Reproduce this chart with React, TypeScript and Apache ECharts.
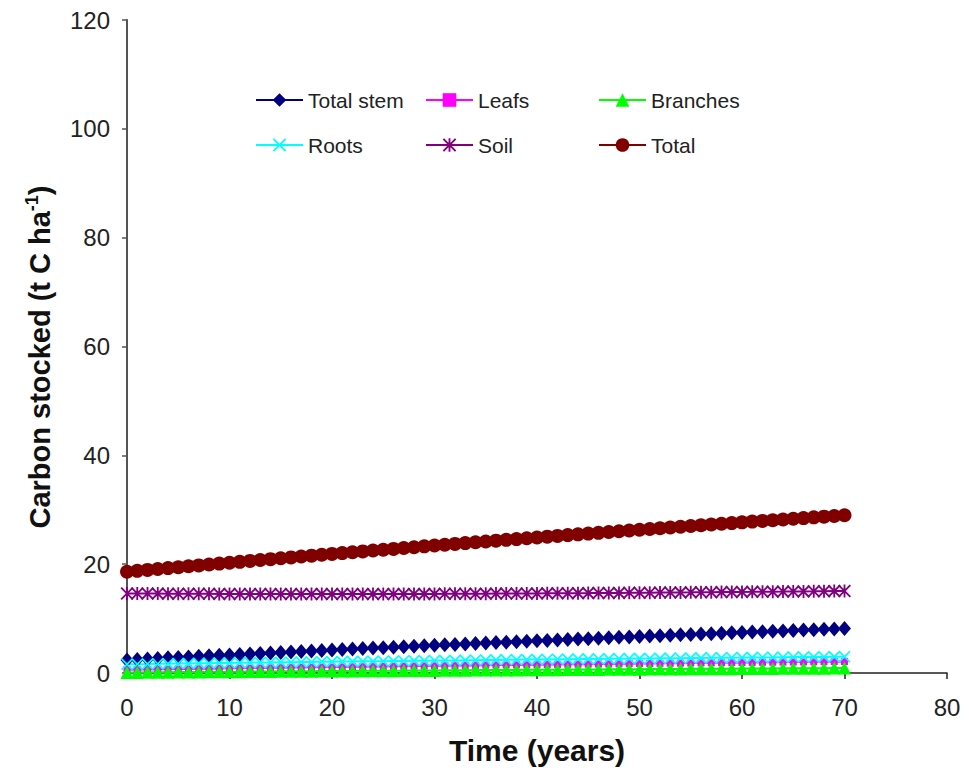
import React, { useEffect, useRef } from "react";
import * as echarts from "echarts";

const years = [
  0, 1, 2, 3, 4, 5, 6, 7, 8, 9, 10, 11, 12, 13, 14, 15, 16, 17, 18, 19, 20,
  21, 22, 23, 24, 25, 26, 27, 28, 29, 30, 31, 32, 33, 34, 35, 36, 37, 38, 39, 40,
  41, 42, 43, 44, 45, 46, 47, 48, 49, 50, 51, 52, 53, 54, 55, 56, 57, 58, 59, 60,
  61, 62, 63, 64, 65, 66, 67, 68, 69, 70,
];

const totalStem = [
  2.40, 2.49, 2.59, 2.68, 2.78, 2.87, 2.96, 3.06, 3.15, 3.24, 3.33,
  3.42, 3.51, 3.60, 3.69, 3.78, 3.87, 3.96, 4.05, 4.14, 4.23,
  4.32, 4.40, 4.49, 4.58, 4.66, 4.75, 4.83, 4.92, 5.00, 5.09,
  5.17, 5.26, 5.34, 5.42, 5.50, 5.59, 5.67, 5.75, 5.83, 5.91,
  5.99, 6.07, 6.15, 6.23, 6.31, 6.39, 6.47, 6.55, 6.62, 6.70,
  6.78, 6.85, 6.93, 7.01, 7.08, 7.16, 7.23, 7.30, 7.38, 7.45,
  7.53, 7.60, 7.67, 7.74, 7.81, 7.89, 7.96, 8.03, 8.10, 8.17,
];

const leafs = [
  0.60, 0.63, 0.65, 0.68, 0.70, 0.73, 0.75, 0.78, 0.80, 0.83, 0.85,
  0.88, 0.90, 0.93, 0.95, 0.97, 1.00, 1.02, 1.05, 1.07, 1.09,
  1.12, 1.14, 1.16, 1.18, 1.21, 1.23, 1.25, 1.27, 1.30, 1.32,
  1.34, 1.36, 1.38, 1.40, 1.43, 1.45, 1.47, 1.49, 1.51, 1.53,
  1.55, 1.57, 1.59, 1.61, 1.63, 1.65, 1.67, 1.69, 1.71, 1.73,
  1.75, 1.77, 1.79, 1.81, 1.83, 1.85, 1.87, 1.89, 1.90, 1.92,
  1.94, 1.96, 1.98, 2.00, 2.01, 2.03, 2.05, 2.07, 2.09, 2.10,
];

const branches = [
  0.10, 0.11, 0.13, 0.14, 0.15, 0.17, 0.18, 0.19, 0.21, 0.22, 0.23,
  0.25, 0.26, 0.27, 0.28, 0.30, 0.31, 0.32, 0.33, 0.35, 0.36,
  0.37, 0.38, 0.40, 0.41, 0.42, 0.43, 0.44, 0.46, 0.47, 0.48,
  0.49, 0.50, 0.52, 0.53, 0.54, 0.55, 0.56, 0.57, 0.59, 0.60,
  0.61, 0.62, 0.63, 0.64, 0.65, 0.66, 0.68, 0.69, 0.70, 0.71,
  0.72, 0.73, 0.74, 0.75, 0.76, 0.77, 0.78, 0.79, 0.80, 0.81,
  0.82, 0.83, 0.84, 0.85, 0.86, 0.87, 0.88, 0.89, 0.90, 0.91,
];

const roots = [
  1.60, 1.63, 1.65, 1.68, 1.70, 1.73, 1.75, 1.78, 1.80, 1.83, 1.85,
  1.87, 1.90, 1.92, 1.94, 1.97, 1.99, 2.01, 2.03, 2.06, 2.08,
  2.10, 2.12, 2.14, 2.16, 2.18, 2.20, 2.22, 2.24, 2.26, 2.28,
  2.30, 2.32, 2.34, 2.36, 2.38, 2.40, 2.42, 2.44, 2.46, 2.48,
  2.50, 2.52, 2.54, 2.56, 2.57, 2.59, 2.61, 2.63, 2.65, 2.66,
  2.68, 2.70, 2.72, 2.73, 2.75, 2.77, 2.78, 2.80, 2.82, 2.83,
  2.85, 2.87, 2.88, 2.90, 2.92, 2.93, 2.95, 2.96, 2.98, 3.00,
];

const soil = [
  14.62, 14.61, 14.60, 14.59, 14.58, 14.57, 14.56, 14.56, 14.55, 14.54, 14.54,
  14.53, 14.53, 14.52, 14.52, 14.52, 14.51, 14.51, 14.51, 14.51, 14.51,
  14.51, 14.51, 14.51, 14.52, 14.52, 14.52, 14.53, 14.53, 14.54, 14.54,
  14.55, 14.56, 14.56, 14.57, 14.58, 14.59, 14.60, 14.61, 14.62, 14.63,
  14.64, 14.65, 14.66, 14.67, 14.68, 14.70, 14.71, 14.72, 14.74, 14.75,
  14.76, 14.78, 14.79, 14.81, 14.82, 14.84, 14.85, 14.87, 14.88, 14.90,
  14.91, 14.93, 14.95, 14.96, 14.98, 15.00, 15.01, 15.03, 15.05, 15.07,
];

const total = [
  18.60, 18.77, 18.94, 19.11, 19.28, 19.44, 19.61, 19.77, 19.94, 20.10, 20.27,
  20.43, 20.60, 20.76, 20.92, 21.08, 21.24, 21.40, 21.56, 21.72, 21.88,
  22.03, 22.19, 22.35, 22.50, 22.66, 22.81, 22.96, 23.12, 23.27, 23.42,
  23.57, 23.72, 23.87, 24.02, 24.17, 24.32, 24.47, 24.61, 24.76, 24.90,
  25.05, 25.19, 25.34, 25.48, 25.62, 25.76, 25.91, 26.05, 26.19, 26.33,
  26.46, 26.60, 26.74, 26.88, 27.01, 27.15, 27.28, 27.42, 27.55, 27.68,
  27.82, 27.95, 28.08, 28.21, 28.34, 28.47, 28.60, 28.73, 28.85, 28.98,
];

const seriesNames = ["Total stem", "Leafs", "Branches", "Roots", "Soil", "Total"];

const FONT = "'Liberation Sans', Arial, Helvetica, sans-serif";

const X_SYMBOL =
  "path://M0,1 L1,0 L5,4 L9,0 L10,1 L6,5 L10,9 L9,10 L5,6 L1,10 L0,9 L4,5 Z";
const STAR_SYMBOL =
  "path://M0,1 L1,0 L5,4 L9,0 L10,1 L6,5 L10,9 L9,10 L5,6 L1,10 L0,9 L4,5 Z M4.3,0 L5.7,0 L5.7,10 L4.3,10 Z";

export default function App() {
  const ref = useRef<HTMLDivElement>(null);

  useEffect(() => {
    if (!ref.current) return;
    const chart = echarts.init(ref.current, null, { renderer: "svg" });

    const pair = (vals: number[]) => years.map((y, i) => [y, vals[i]]);

    const specs = [
      { name: seriesNames[0], data: totalStem, color: "#000080", symbol: "diamond", size: [13, 15] },
      { name: seriesNames[1], data: leafs, color: "#FF00FF", symbol: "rect", size: 7 },
      { name: seriesNames[2], data: branches, color: "#00FF00", symbol: "triangle", size: 13 },
      { name: seriesNames[3], data: roots, color: "#00FFFF", symbol: X_SYMBOL, size: 12 },
      { name: seriesNames[4], data: soil, color: "#800080", symbol: STAR_SYMBOL, size: 13 },
      { name: seriesNames[5], data: total, color: "#800000", symbol: "circle", size: 14 },
    ];

    const legendPos = [
      { left: 255, top: 89 },
      { left: 425, top: 89 },
      { left: 598, top: 89 },
      { left: 255, top: 134 },
      { left: 425, top: 134 },
      { left: 598, top: 134 },
    ];

    const option: any = {
      animation: false,
      backgroundColor: "#ffffff",
      grid: { left: 127, right: 22, top: 20, bottom: 98, containLabel: false },
      legend: specs.map((s, i) => ({
        data: [s.name],
        left: legendPos[i].left,
        top: legendPos[i].top,
        padding: 0,
        itemWidth: 47,
        itemHeight: 17,
        textStyle: { fontSize: 21, color: "#222", fontFamily: FONT, lineHeight: 22 },
      })),
      xAxis: {
        type: "value",
        min: 0,
        max: 80,
        interval: 10,
        axisLine: { show: true, onZero: false, lineStyle: { color: "#222", width: 1.5 } },
        axisTick: { show: true, inside: false, length: 6, lineStyle: { color: "#222", width: 1.5 } },
        axisLabel: { fontSize: 24, color: "#222", fontFamily: FONT, margin: 22 },
        splitLine: { show: false },
      },
      yAxis: {
        type: "value",
        min: 0,
        max: 120,
        interval: 20,
        axisLine: { show: true, lineStyle: { color: "#555", width: 2 } },
        axisTick: { show: true, inside: false, length: 5, lineStyle: { color: "#555", width: 1.5 } },
        axisLabel: { fontSize: 24, color: "#222", fontFamily: FONT, margin: 17 },
        splitLine: { show: false },
      },
      series: specs.map((s) => ({
        type: "line",
        name: s.name,
        data: pair(s.data),
        symbol: s.symbol,
        symbolSize: s.size,
        showSymbol: true,
        color: s.color,
        lineStyle: { color: s.color, width: 2 },
        itemStyle: { color: s.color, borderWidth: 0 },
        emphasis: { disabled: true },
      })),
      graphic: [
        {
          type: "text",
          x: 40,
          y: 357,
          rotation: Math.PI / 2,
          style: {
            text: "Carbon stocked (t C ha{sup|-1})",
            font: `bold 29px ${FONT}`,
            fill: "#111",
            align: "center",
            verticalAlign: "middle",
            rich: {
              sup: {
                fontSize: 18,
                fontWeight: "bold",
                fontFamily: FONT,
                fill: "#111",
                verticalAlign: "top",
                lineHeight: 34,
              },
            },
          },
        },
        {
          type: "text",
          x: 537,
          y: 750,
          style: {
            text: "Time (years)",
            font: `bold 30px ${FONT}`,
            fill: "#111",
            align: "center",
            verticalAlign: "middle",
          },
        },
      ],
    };

    chart.setOption(option);
    return () => chart.dispose();
  }, []);

  return (
    <div
      ref={ref}
      style={{ position: "absolute", left: 0, top: 0, width: 969, height: 771 }}
    />
  );
}
